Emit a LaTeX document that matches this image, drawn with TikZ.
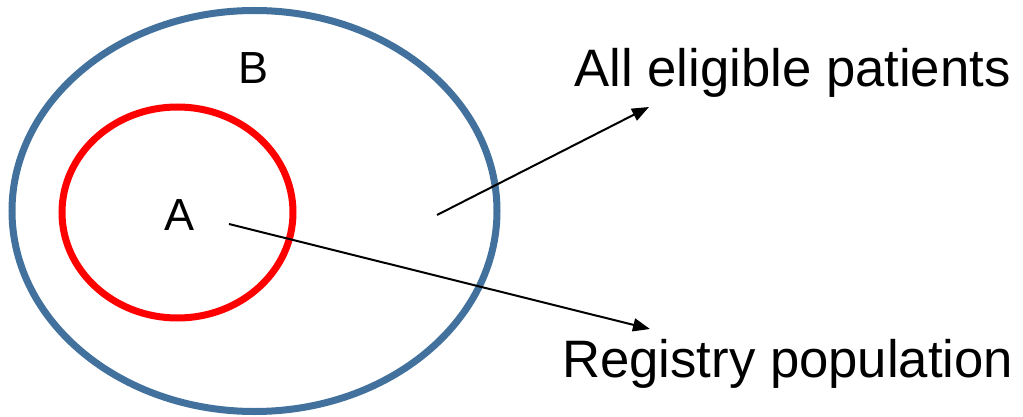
\documentclass[tikz,border=0pt]{standalone}
\usepackage{fontspec}
\setmainfont{Liberation Sans}
\usetikzlibrary{arrows.meta}
\definecolor{setblue}{RGB}{65,113,156}
\definecolor{setred}{RGB}{255,0,0}
\begin{document}
\begin{tikzpicture}[x=1pt,y=-1pt,
  setring/.style={line width=7pt},
  biglabel/.style={inner sep=0pt,anchor=base west,font=\fontsize{52.7}{60}\selectfont},
  setlabel/.style={inner sep=0pt,anchor=base,font=\fontsize{45}{52}\selectfont},
  pointer/.style={line width=2pt,-{Triangle[length=17pt,width=13pt]}}]
\useasboundingbox (0,0) rectangle (1023,417);
% outer set B and inner set A
\draw[setring,setblue] (254.5,211) ellipse [x radius=242.5, y radius=200.5];
\draw[setring,setred] (177.5,212.5) ellipse [x radius=115.5, y radius=105.5];
% set letters
\node[setlabel] (B) at (254,84) {B};
\node[setlabel] (A) at (180,230) {A};
% descriptions
\node[biglabel] (elig) at (574,87) {All eligible patients};
\node[biglabel] (reg) at (562,377) {Registry population};
% pointer ends
\coordinate (bstart) at (437,215);
\coordinate (btip) at (649,107);
\coordinate (astart) at (229,224);
\coordinate (atip) at (650,329);
\draw[pointer] (bstart) -- (btip);
\draw[pointer] (astart) -- (atip);
\end{tikzpicture}
\end{document}
